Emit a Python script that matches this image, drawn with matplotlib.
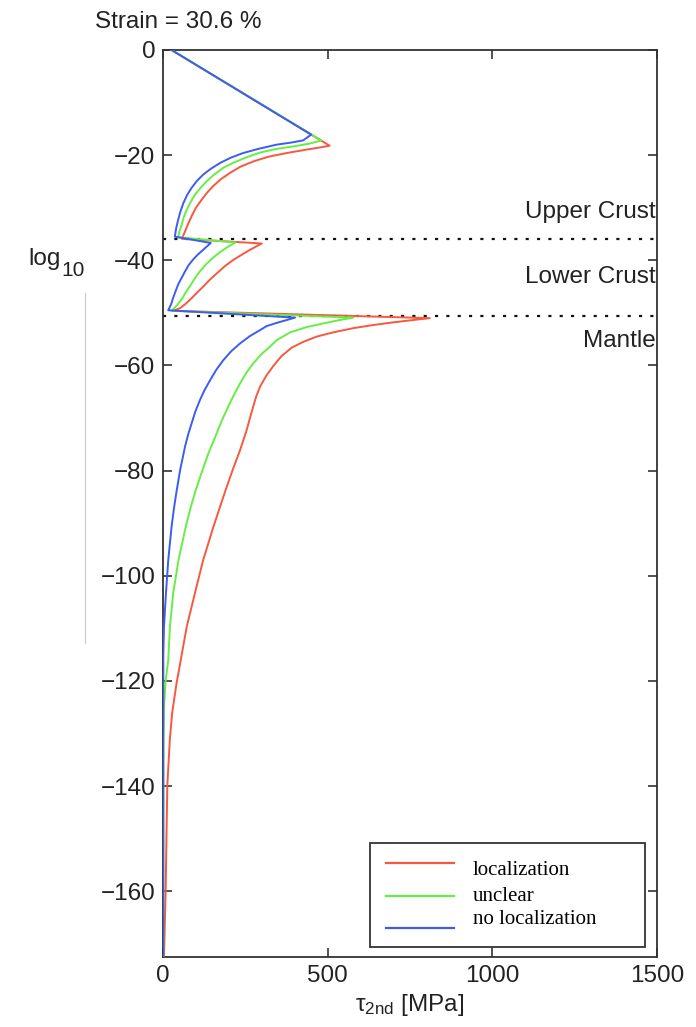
import matplotlib
matplotlib.use("Agg")
import matplotlib.pyplot as plt
from matplotlib.lines import Line2D
from matplotlib.patches import Rectangle

# Second stress invariant (MPa) versus depth for three model outcomes
red_depth = [0, -18.2, -18.5, -18.9, -19.6, -20.3, -21.2, -22.2, -23.4, -24.6, -25.9,
             -27.2, -28.5, -30.0, -31.6, -33.1, -34.5, -35.9,
             -36.8, -38.0, -38.9, -39.9, -41.1, -42.5, -43.7, -45.0, -46.1, -47.2,
             -48.2, -49.1, -49.6,
             -51.0, -51.35, -51.8, -52.3, -52.9, -53.7, -54.5, -55.5, -56.6, -58.2,
             -60.1, -62.0, -64.0, -65.9, -67.8, -70.0, -72.3, -76.1, -79.6, -83.9,
             -90.7, -97.0, -103.3, -109.7, -116.0, -120.5, -126.0, -130.9, -140.0,
             -160.0, -172.5]
red_stress = [26, 506, 480, 440, 375, 320, 274, 235, 203, 175, 152,
              133, 117, 100, 87, 76, 67, 57,
              300, 264, 240, 214, 188, 163, 142, 122, 104, 87,
              70, 52, 31,
              810, 760, 699, 639, 578, 517, 467, 426, 391, 360,
              335, 313, 295, 283, 274, 264, 254, 234, 213, 189,
              153, 122, 97, 72, 54, 41, 28, 21, 13,
              8, 3]

green_depth = [0, -17.2, -17.8, -18.3, -18.8, -19.5, -20.4, -21.4, -22.4, -23.7, -25.0,
               -26.3, -27.5, -29.0, -30.4, -31.8, -33.2, -34.5, -35.6,
               -36.6, -37.6, -38.5, -39.5, -40.8, -42.1, -43.5, -44.9, -46.2, -47.4,
               -48.6, -49.6,
               -50.9, -51.35, -52.0, -52.7, -53.7, -55.2, -56.4, -57.9, -59.6, -61.4,
               -63.4, -65.9, -68.5, -70.7, -72.9, -76.7, -79.9, -83.6, -87.0, -90.7,
               -97.0, -103.3, -109.7, -116.0, -120.0, -125.0, -132.0, -172.5]
green_stress = [26, 481, 445, 400, 345, 295, 254, 215, 183, 155, 132,
                113, 97, 83, 72, 63, 57, 50, 46,
                220, 193, 172, 152, 130, 112, 96, 82, 68, 57,
                42, 26,
                578, 537, 487, 436, 386, 345, 325, 298, 274, 253,
                234, 213, 193, 177, 163, 138, 120, 100, 84, 69,
                47, 31, 21, 16, 8, 3, 1, 1]

blue_depth = [0, -16.1, -17.2, -17.6, -18.0, -18.8, -19.6, -20.5, -21.5, -22.6, -23.7,
              -24.9, -26.2, -27.6, -29.1, -30.7, -32.3, -33.9, -35.5,
              -36.7, -38.0, -38.9, -39.8, -40.9, -42.1, -43.4, -44.6, -45.9, -47.1,
              -48.3, -49.5,
              -50.9, -51.35, -51.9, -52.5, -53.3, -54.4, -55.8, -57.3, -59.0, -60.8,
              -62.8, -64.7, -66.6, -68.8, -71.0, -73.2, -75.4, -77.8, -79.9, -84.0,
              -87.3, -90.7, -93.8, -97.0, -103.3, -109.7, -115.0, -172.5]
blue_stress = [26, 450, 425, 390, 345, 290, 243, 205, 173, 145, 122,
               103, 87, 73, 62, 53, 46, 40, 36,
               145, 122, 106, 92, 78, 67, 56, 46, 38, 31,
               25, 16,
               401, 376, 345, 315, 294, 264, 234, 207, 183, 162,
               143, 126, 112, 98, 87, 76, 67, 59, 52, 41,
               33, 26, 21, 16, 9, 3, 1, 1]

series_labels = ["localization", "unclear", "no localization"]
series_colors = ["#f8583e", "#66ee44", "#3c5cf2"]

boundary_depths = [-36.0, -50.5]
layer_names = ["Upper Crust", "Lower Crust", "Mantle"]
layer_label_depths = [-30.9, -43.1, -55.4]

x_ticks = [0, 500, 1000, 1500]
y_ticks = [0, -20, -40, -60, -80, -100, -120, -140, -160]

plt.rcParams['font.family'] = ['Liberation Sans', 'DejaVu Sans']
plt.rcParams['mathtext.fontset'] = 'custom'
plt.rcParams['mathtext.rm'] = 'Liberation Sans'
plt.rcParams['mathtext.it'] = 'Liberation Sans:italic'

W, H = 696, 1027
fig = plt.figure(figsize=(W / 100, H / 100), dpi=100)
ax = fig.add_axes([163 / W, 1 - 957 / H, 494 / W, 907 / H])

for s, d, c in zip([red_stress, green_stress, blue_stress],
                   [red_depth, green_depth, blue_depth], series_colors):
    ax.plot(s, d, color=c, lw=1.4, solid_joinstyle='round', zorder=3)

for yb in boundary_depths:
    ax.axhline(yb, color='#111111', ls=(0, (1.4, 3.7)), lw=1.6, zorder=2)

for name, yd in zip(layer_names, layer_label_depths):
    ax.text(1497, yd, name, ha='right', va='center', fontsize=17.5, color='#222222')

ax.set_xlim(0, 1500)
ax.set_ylim(-172.5, 0)
ax.set_xticks(x_ticks)
ax.set_yticks(y_ticks)
ax.tick_params(direction='in', length=6.5, width=1.1, top=True, right=True,
               labelsize=17.5, pad=5.5, colors='#222222')
for sp in ax.spines.values():
    sp.set_linewidth(1.3)
    sp.set_color('#333333')

ax.set_xlabel('τ$_{\\mathrm{2nd}}$ [MPa]', fontsize=17.5, color='#222222', labelpad=4)

# legend drawn as a framed box in axes coordinates
ax.add_patch(Rectangle((0.419, 0.011), 0.557, 0.1147, transform=ax.transAxes,
                       facecolor='white', edgecolor='#333333', lw=1.3, zorder=5))
line_y = [0.1036, 0.0673, 0.032]
text_y = [0.0959, 0.0662, 0.0408]
for lab, c, ly, ty in zip(series_labels, series_colors, line_y, text_y):
    ax.add_line(Line2D([0.451, 0.589], [ly, ly], transform=ax.transAxes,
                       color=c, lw=1.6, zorder=6))
    ax.text(0.6275, ty, lab, transform=ax.transAxes, ha='left', va='center',
            fontsize=15, family='Liberation Serif', color='black', zorder=6)

fig.text(95 / W, 1 - 22 / H, 'Strain = 30.6 %', ha='left', va='center',
         fontsize=17.5, color='#222222')
fig.text(28 / W, 1 - 265 / H, 'log', ha='left', va='baseline',
         fontsize=17.5, color='#222222')
fig.text(61 / W, 1 - 276 / H, '10', ha='left', va='baseline',
         fontsize=15, color='#222222')
fig.add_artist(Line2D([85 / W, 85 / W], [1 - 293 / H, 1 - 643 / H],
                      color='#c8c8c8', lw=0.8))

fig.savefig('out.png', dpi=100)
